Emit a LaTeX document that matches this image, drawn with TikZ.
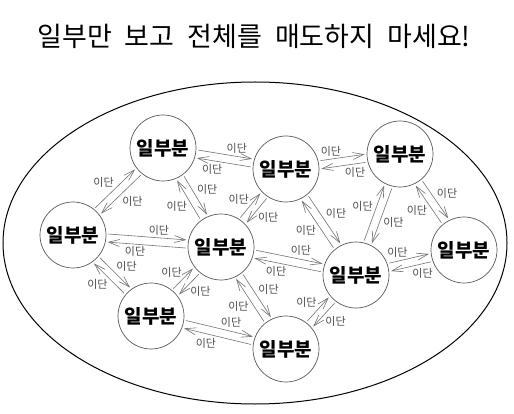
\documentclass[tikz,border=0pt]{standalone}
\usepackage{fontspec}
\setmainfont{Noto Sans CJK KR}
\usetikzlibrary{arrows.meta,shapes.geometric}
\tikzset{
  part/.style={circle, draw=black!65, line width=0.7pt, minimum size=66pt, inner sep=0pt,
    font=\fontsize{19}{21}\selectfont\bfseries, text=black},
  arr/.style={draw=black!55, line width=0.6pt, -{Straight Barb[length=11pt,width=7pt]},
    shorten <=2pt, shorten >=2pt},
  lbl/.style={auto, font=\fontsize{11}{12}\selectfont, text=black!70, inner sep=1.2pt},
  whole/.style={draw=black, line width=1pt},
  ttl/.style={font=\fontsize{27}{30}\selectfont, text=black}
}
\def\gapang{7}
\newcommand\biarrow[2]{%
  \pgfmathanglebetweenpoints{\pgfpointanchor{#1}{center}}{\pgfpointanchor{#2}{center}}%
  \let\bang\pgfmathresult
  \pgfmathsetmacro\aS{\bang+\gapang}\pgfmathsetmacro\aE{\bang+180-\gapang}%
  \pgfmathsetmacro\bS{\bang+180+\gapang}\pgfmathsetmacro\bE{\bang-\gapang}%
  \draw[arr] (#1.\aS) -- node[lbl] {이단} (#2.\aE);
  \draw[arr] (#2.\bS) -- node[lbl] {이단} (#1.\bE);
}
\begin{document}
\begin{tikzpicture}[x=1pt,y=-1pt]
\useasboundingbox (0,0) rectangle (514,414);
\fill[white] (0,0) rectangle (514,414);
\node[ttl] (title) at (254,36) {일부만\hspace{13pt}보고\hspace{13pt}전체를\hspace{13pt}매도하지\hspace{13pt}마세요!};
\node[whole, ellipse, minimum width=504pt, minimum height=322pt, inner sep=0pt] (all) at (255,243) {};
\node[part] (A) at (163,148) {일부분};
\node[part] (B) at (286,169) {일부분};
\node[part] (C) at (400,154) {일부분};
\node[part] (D) at (73,235) {일부분};
\node[part] (E) at (221,247) {일부분};
\node[part] (F) at (356,275) {일부분};
\node[part] (G) at (464,250) {일부분};
\node[part] (H) at (151,316) {일부분};
\node[part] (I) at (286,349) {일부분};
\biarrow{A}{B}
\biarrow{B}{C}
\biarrow{D}{A}
\biarrow{A}{E}
\biarrow{E}{B}
\biarrow{B}{F}
\biarrow{C}{F}
\biarrow{C}{G}
\biarrow{D}{E}
\biarrow{E}{F}
\biarrow{F}{G}
\biarrow{D}{H}
\biarrow{H}{E}
\biarrow{H}{I}
\biarrow{E}{I}
\biarrow{I}{F}
\end{tikzpicture}
\end{document}
